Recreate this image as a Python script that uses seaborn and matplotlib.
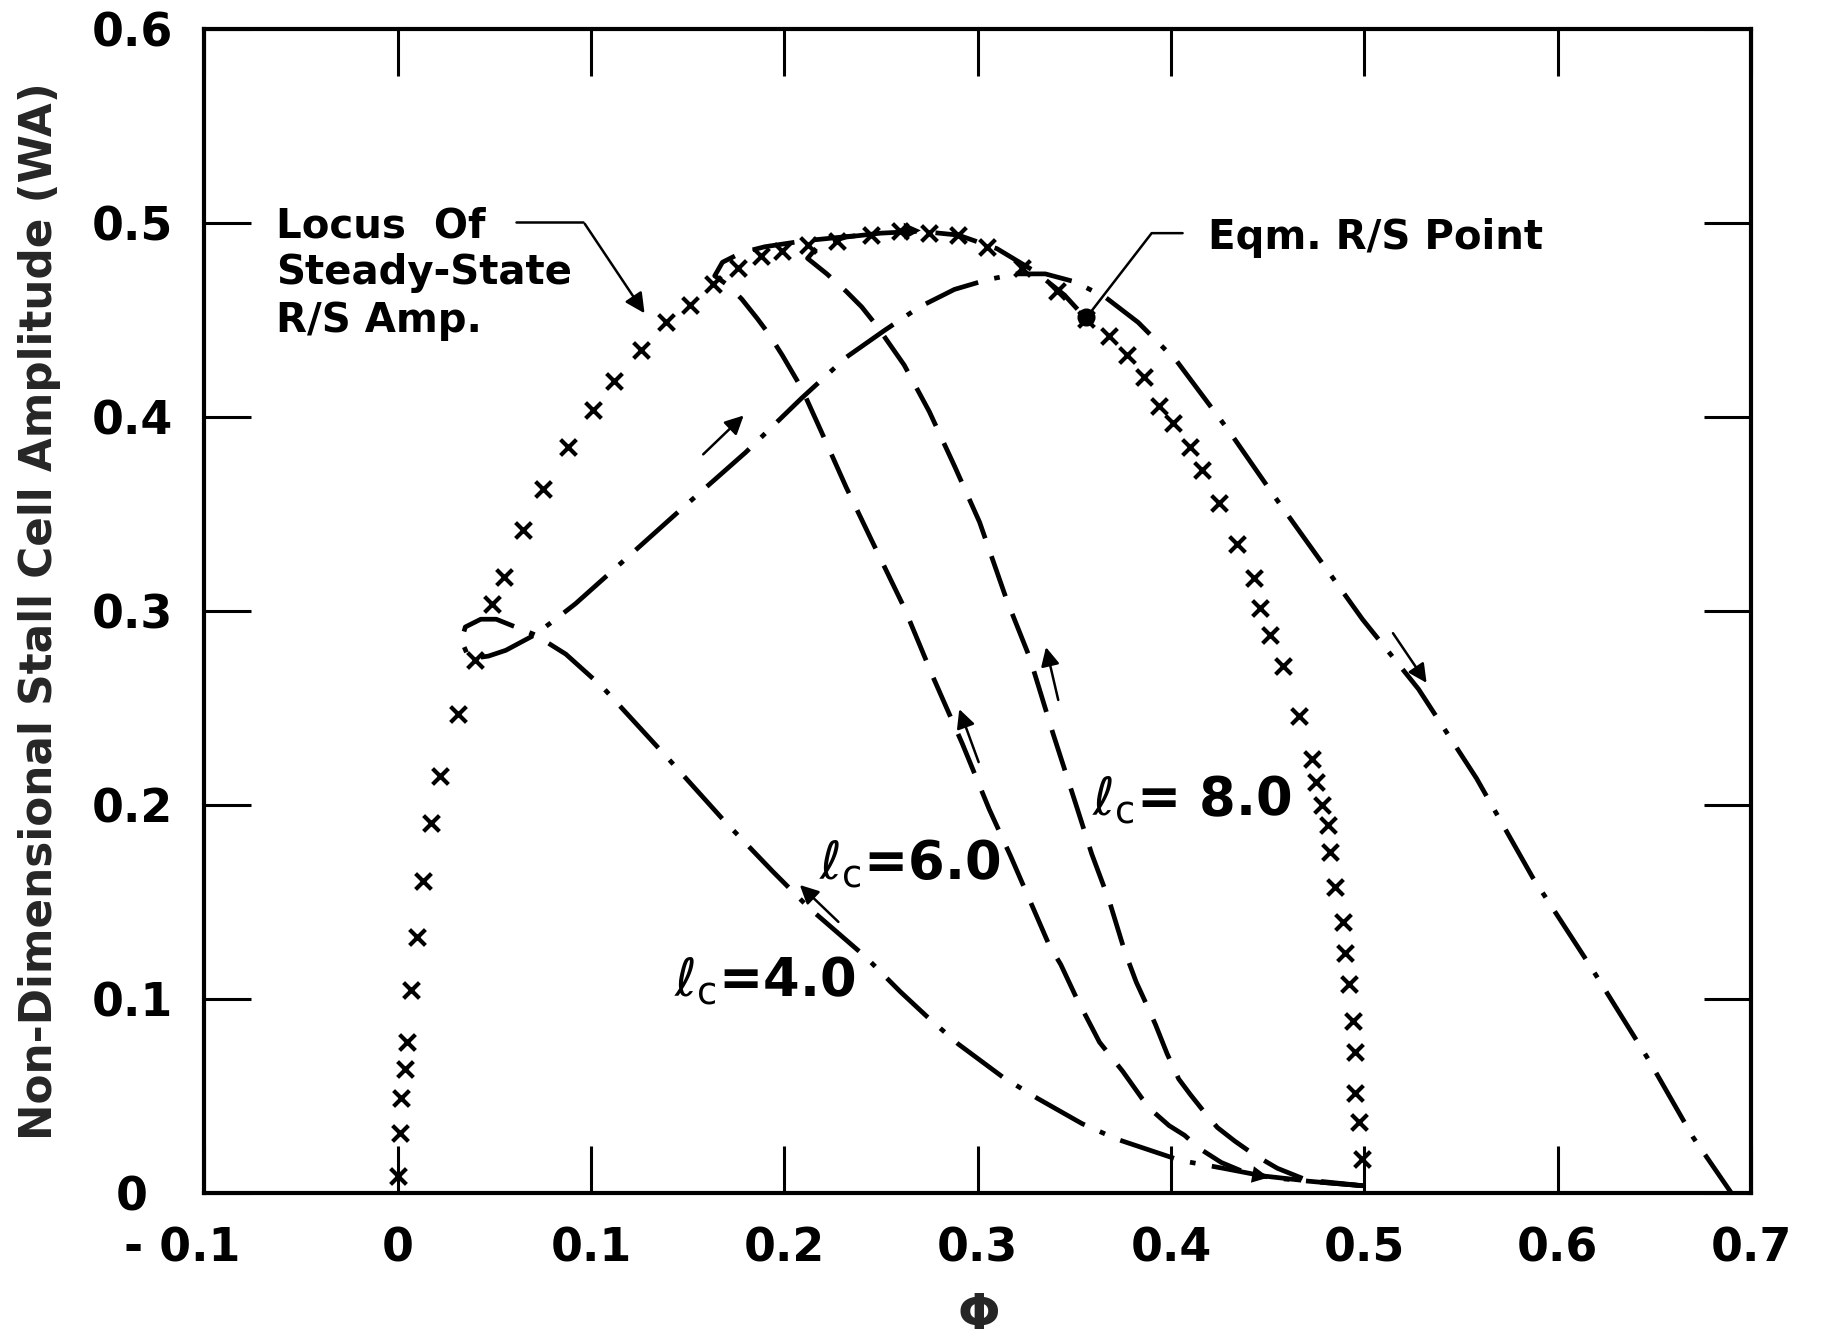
import numpy as np
import pandas as pd
import matplotlib
matplotlib.use('Agg')
import matplotlib.pyplot as plt
import matplotlib.transforms as mtransforms
import seaborn as sns

# steady-state R/S amplitude locus (x markers)
locus_phi = [0.000, 0.001, 0.002, 0.004, 0.005, 0.007, 0.010, 0.013, 0.017, 0.022,
             0.031, 0.040, 0.049, 0.055, 0.065, 0.075, 0.088, 0.101, 0.112, 0.126,
             0.139, 0.151, 0.163, 0.176, 0.188, 0.199, 0.212, 0.227, 0.245, 0.260,
             0.275, 0.290, 0.305, 0.323, 0.341, 0.356, 0.368, 0.377, 0.386, 0.394,
             0.401, 0.410, 0.416, 0.425, 0.434, 0.443, 0.446, 0.451, 0.458, 0.466,
             0.473, 0.475, 0.478, 0.481, 0.482, 0.485, 0.489, 0.490, 0.492, 0.494,
             0.495, 0.495, 0.497, 0.499]
locus_wa = [0.009, 0.031, 0.049, 0.064, 0.078, 0.105, 0.132, 0.161, 0.191, 0.215,
            0.247, 0.275, 0.304, 0.318, 0.342, 0.363, 0.385, 0.404, 0.419, 0.435,
            0.449, 0.458, 0.469, 0.477, 0.483, 0.486, 0.489, 0.491, 0.494, 0.496,
            0.495, 0.494, 0.488, 0.477, 0.465, 0.451, 0.442, 0.432, 0.421, 0.406,
            0.397, 0.385, 0.373, 0.356, 0.335, 0.317, 0.302, 0.288, 0.272, 0.246,
            0.224, 0.212, 0.200, 0.190, 0.176, 0.158, 0.140, 0.124, 0.108, 0.089,
            0.073, 0.052, 0.037, 0.018]

# lc = 4.0 transient (dash-dot): from (0.5, 0) round the loop and out to 0.69
lc4_phi = [0.499, 0.475, 0.453, 0.427, 0.405, 0.372, 0.354, 0.331, 0.313, 0.290,
           0.274, 0.260, 0.242, 0.213, 0.194, 0.169, 0.141, 0.106, 0.087, 0.071,
           0.051, 0.043, 0.035, 0.033, 0.036, 0.040, 0.047, 0.056, 0.071, 0.083,
           0.092, 0.110, 0.147, 0.180, 0.209, 0.232, 0.252, 0.270, 0.288, 0.305,
           0.320, 0.335, 0.350, 0.366, 0.383, 0.403, 0.430, 0.453, 0.476, 0.499,
           0.528, 0.558, 0.587, 0.617, 0.647, 0.670, 0.690]
lc4_wa = [0.004, 0.006, 0.008, 0.013, 0.017, 0.028, 0.036, 0.049, 0.060, 0.077,
          0.091, 0.104, 0.122, 0.147, 0.166, 0.192, 0.223, 0.261, 0.278, 0.288,
          0.296, 0.296, 0.292, 0.285, 0.278, 0.276, 0.277, 0.280, 0.288, 0.297,
          0.304, 0.320, 0.353, 0.382, 0.410, 0.431, 0.445, 0.457, 0.466, 0.471,
          0.474, 0.474, 0.470, 0.462, 0.449, 0.429, 0.393, 0.360, 0.328, 0.296,
          0.260, 0.214, 0.163, 0.117, 0.069, 0.029, 0.000]

# lc = 6.0 transient (dashed): from (0.5, 0) up to the locus, then to eqm point
lc6_phi = [0.499, 0.475, 0.448, 0.438, 0.426, 0.415, 0.407, 0.399, 0.391, 0.385,
           0.375, 0.363, 0.351, 0.343, 0.337, 0.327, 0.317, 0.306, 0.292, 0.277,
           0.262, 0.245, 0.232, 0.219, 0.209, 0.199, 0.192, 0.186, 0.178, 0.171,
           0.164, 0.168, 0.178, 0.190, 0.210, 0.230, 0.250, 0.270, 0.290, 0.310,
           0.330, 0.345, 0.356]
lc6_wa = [0.004, 0.006, 0.009, 0.011, 0.016, 0.023, 0.030, 0.035, 0.042, 0.049,
          0.063, 0.078, 0.101, 0.118, 0.128, 0.151, 0.174, 0.198, 0.232, 0.266,
          0.302, 0.337, 0.364, 0.393, 0.415, 0.432, 0.443, 0.451, 0.461, 0.468,
          0.473, 0.480, 0.485, 0.488, 0.491, 0.493, 0.495, 0.496, 0.494, 0.487,
          0.475, 0.463, 0.451]

# lc = 8.0 transient (dashed)
lc8_phi = [0.4995, 0.470, 0.455, 0.443, 0.433, 0.424, 0.418, 0.410, 0.404, 0.398,
           0.392, 0.388, 0.382, 0.376, 0.368, 0.359, 0.351, 0.339, 0.327, 0.315,
           0.301, 0.288, 0.275, 0.262, 0.248, 0.240, 0.232, 0.222, 0.212, 0.218,
           0.232, 0.250]
lc8_wa = [0.004, 0.007, 0.013, 0.020, 0.027, 0.034, 0.041, 0.051, 0.059, 0.072,
          0.087, 0.096, 0.109, 0.125, 0.151, 0.175, 0.200, 0.237, 0.276, 0.306,
          0.346, 0.375, 0.403, 0.427, 0.447, 0.457, 0.465, 0.474, 0.482, 0.489,
          0.493, 0.495]

eqm_phi, eqm_wa = 0.356, 0.452

xticks = [-0.1, 0.0, 0.1, 0.2, 0.3, 0.4, 0.5, 0.6, 0.7]
xtick_labels = ['- 0.1', '0', '0.1', '0.2', '0.3', '0.4', '0.5', '0.6', '0.7']
yticks = [0.0, 0.1, 0.2, 0.3, 0.4, 0.5, 0.6]
ytick_labels = ['0', '0.1', '0.2', '0.3', '0.4', '0.5', '0.6']

sns.set_style('ticks')
plt.rcParams['font.family'] = ['DejaVu Sans']

fig = plt.figure(figsize=(18.24, 13.38), dpi=100)
ax = fig.add_axes([0.112, 0.108, 0.848, 0.870])

ink = 'black'
lw = 3.4

locus = pd.DataFrame({'phi': locus_phi, 'wa': locus_wa})
sns.scatterplot(data=locus, x='phi', y='wa', marker='x', s=130, color=ink,
                linewidth=3.0, ax=ax, zorder=4)

lc4 = pd.DataFrame({'phi': lc4_phi, 'wa': lc4_wa})
sns.lineplot(data=lc4, x='phi', y='wa', sort=False, estimator=None, color=ink,
             lw=lw, linestyle=(0, (12, 3.5, 1.2, 3.5)), ax=ax)
lc6 = pd.DataFrame({'phi': lc6_phi, 'wa': lc6_wa})
sns.lineplot(data=lc6, x='phi', y='wa', sort=False, estimator=None, color=ink,
             lw=lw, linestyle=(0, (9, 4)), ax=ax)
lc8 = pd.DataFrame({'phi': lc8_phi, 'wa': lc8_wa})
sns.lineplot(data=lc8, x='phi', y='wa', sort=False, estimator=None, color=ink,
             lw=lw, linestyle=(0, (9, 4)), ax=ax)

ax.plot([eqm_phi], [eqm_wa], 'o', color=ink, ms=12, zorder=5)

# direction arrows
arrow_kw = dict(arrowstyle='-|>', color=ink, lw=1.8, mutation_scale=28)
for (x0, y0, x1, y1) in [(0.229, 0.139, 0.207, 0.160),
                         (0.157, 0.380, 0.180, 0.402),
                         (0.514, 0.290, 0.533, 0.262),
                         (0.301, 0.221, 0.290, 0.251),
                         (0.342, 0.253, 0.335, 0.283)]:
    ax.annotate('', xy=(x1, y1), xytext=(x0, y0), arrowprops=arrow_kw)
head_kw = dict(arrowstyle='-|>', color=ink, lw=0, mutation_scale=30)
ax.annotate('', xy=(0.272, 0.4965), xytext=(0.250, 0.4955), arrowprops=head_kw)
ax.annotate('', xy=(0.452, 0.008), xytext=(0.430, 0.012), arrowprops=head_kw)

# annotations
txt = dict(fontsize=29, color=ink, fontweight='bold')
ax.text(-0.063, 0.493, 'Locus  Of', **txt)
ax.text(-0.063, 0.469, 'Steady-State', **txt)
ax.text(-0.063, 0.444, 'R/S Amp.', **txt)
ax.plot([0.061, 0.096], [0.501, 0.501], color=ink, lw=1.8)
ax.annotate('', xy=(0.1285, 0.4525), xytext=(0.096, 0.501),
            arrowprops=dict(arrowstyle='-|>', color=ink, lw=1.8, mutation_scale=30))

ax.text(0.419, 0.487, 'Eqm. R/S Point', **txt)
ax.plot([0.406, 0.390, 0.359], [0.495, 0.495, 0.455], color=ink, lw=1.8)

lab = dict(fontsize=38, color=ink, fontweight='bold')
ax.text(0.143, 0.102, r'$\ell_{\rm c}$=4.0', **lab)
ax.text(0.218, 0.162, r'$\ell_{\rm c}$=6.0', **lab)
ax.text(0.359, 0.195, r'$\ell_{\rm c}$= 8.0', **lab)

ax.set_xlim(-0.1, 0.7)
ax.set_ylim(0.0, 0.6)
ax.set_xticks(xticks)
ax.set_xticklabels(xtick_labels, fontweight='bold')
ax.set_yticks(yticks)
ax.set_yticklabels(ytick_labels, fontweight='bold', ha='center')
ax.tick_params(direction='in', length=34, width=2.2, top=True, right=True,
               labelsize=33, colors=ink)
ax.tick_params(axis='x', pad=24)
ax.tick_params(axis='y', pad=52)
for sp in ax.spines.values():
    sp.set_linewidth(3)
    sp.set_color(ink)

# nudge the "- 0.1" label left, as in the original
shift = mtransforms.ScaledTranslation(-0.22, 0, fig.dpi_scale_trans)
lbl0 = ax.get_xticklabels()[0]
lbl0.set_transform(lbl0.get_transform() + shift)

ax.set_xlabel(r'$\mathbf{\Phi}$', fontsize=36, labelpad=14)
ax.set_ylabel('Non-Dimensional Stall Cell Amplitude (WA)', fontsize=31.5,
              fontweight='bold', labelpad=22)

fig.savefig('out.png', dpi=100, facecolor='white')
plt.close(fig)
